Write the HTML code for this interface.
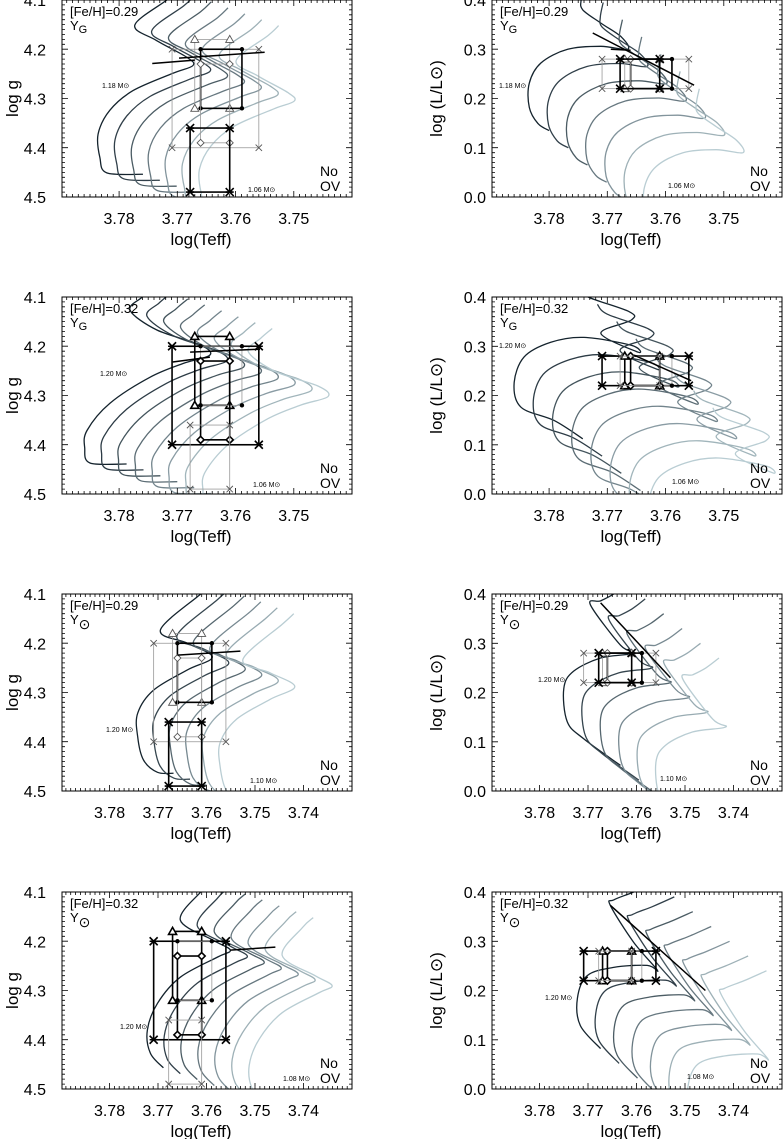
<!DOCTYPE html>
<html><head><meta charset="utf-8"><style>
html,body{margin:0;padding:0;background:#fff;}
svg{display:block;font-family:"Liberation Sans",sans-serif;}
</style></head><body>
<svg id="fig" width="783" height="1139" viewBox="0 0 783 1139" xmlns="http://www.w3.org/2000/svg"></svg>
<script>
// ---- data ----
const rowTops = [0, 297, 594, 892];
const feh = ["0.29", "0.32", "0.29", "0.32"];
const ySym = ["G", "G", "sun", "sun"];
const trackCounts = [7, 8, 6, 7];
const massHi = ["1.18", "1.20", "1.20", "1.20"];
const massLo = ["1.06", "1.06", "1.10", "1.08"];
const xTicksA = [3.78, 3.77, 3.76, 3.75];
const xTicksB = [3.78, 3.77, 3.76, 3.75, 3.74];
const gTicks = [4.1, 4.2, 4.3, 4.4, 4.5];
const lTicks = [0.0, 0.1, 0.2, 0.3, 0.4];
const baseG = [
 [[3.7759,4.454],[3.7821,4.451],[3.7833,4.420],[3.7836,4.372],[3.7816,4.324],[3.7776,4.284],[3.7708,4.249],[3.7673,4.233],[3.7684,4.216],[3.7736,4.182],[3.7773,4.151],[3.7718,4.10],[3.7700,4.08]],
 [[3.7787,4.439],[3.7850,4.437],[3.7859,4.406],[3.7855,4.371],[3.7816,4.316],[3.7747,4.263],[3.7690,4.235],[3.7644,4.218],[3.7661,4.197],[3.7735,4.167],[3.7781,4.127],[3.7760,4.10],[3.7740,4.08]],
 [[3.7668,4.464],[3.7701,4.462],[3.7730,4.437],[3.7742,4.39],[3.7742,4.342],[3.7709,4.295],[3.7639,4.254],[3.7588,4.228],[3.7639,4.20],[3.7695,4.173],[3.7612,4.10],[3.7590,4.08]],
 [[3.7689,4.457],[3.7716,4.427],[3.7722,4.38],[3.7701,4.326],[3.7654,4.273],[3.7577,4.232],[3.7551,4.218],[3.7586,4.198],[3.7654,4.157],[3.7612,4.10],[3.7590,4.08]]
];
const baseL = [
 [[3.7800,0.135],[3.7819,0.149],[3.7834,0.182],[3.7834,0.231],[3.7814,0.272],[3.7768,0.300],[3.7711,0.306],[3.7665,0.300],[3.7676,0.325],[3.7711,0.353],[3.7742,0.38],[3.7745,0.40],[3.7740,0.43]],
 [[3.7742,0.112],[3.7791,0.149],[3.7848,0.176],[3.7860,0.224],[3.7843,0.278],[3.7797,0.308],[3.7740,0.318],[3.7659,0.302],[3.7647,0.288],[3.7711,0.326],[3.7659,0.353],[3.7662,0.37],[3.7733,0.40],[3.7750,0.42]],
 [[3.7633,0.052],[3.7709,0.106],[3.7743,0.141],[3.7750,0.208],[3.7730,0.243],[3.7674,0.27],[3.7606,0.28],[3.7633,0.296],[3.7695,0.378],[3.7674,0.386],[3.7647,0.40],[3.7620,0.42]],
 [[3.7674,0.082],[3.7716,0.129],[3.7722,0.184],[3.7702,0.230],[3.7647,0.247],[3.7578,0.251],[3.7557,0.241],[3.7606,0.298],[3.7654,0.373],[3.7647,0.384],[3.7606,0.40],[3.7560,0.42]]
];
const shiftGx = [0.0029, 0.0029, 0.0034, 0.0035];
const shiftGy = [0.012, 0.012, 0.012, 0.012];
const shiftLx = [0.0033, 0.0033, 0.0038, 0.0038];
const shiftLy = [-0.035, -0.035, -0.03, -0.03];
const boxX = [[3.7709,3.7560,"x"],[3.7670,3.7610,"tri"],[3.7660,3.7589,"dot"],[3.7660,3.7610,"dia"],[3.7678,3.7610,"x"]];
const boxG = [[4.20,4.40],[4.18,4.32],[4.20,4.32],[4.23,4.39],[4.36,4.49]];
const boxL = [[0.22,0.28],[0.22,0.28],[0.22,0.28],[0.22,0.28],[0.22,0.28]];
const boldA = [false,false,true,false,true];
const boldB = [true,true,false,true,false];
const extraG = [
 [[[3.7743,4.229],[3.7670,4.222]],[[3.7697,4.218],[3.7550,4.206]]],
 [[[3.7708,4.232],[3.7644,4.222]],[[3.7678,4.212],[3.7558,4.206]]],
 [[[3.7660,4.224],[3.7530,4.216]]],
 [[[3.7551,4.218],[3.7458,4.212]]]
];
const extraL = [
 [[[3.7725,0.333],[3.7551,0.227]],[[3.7694,0.300],[3.7660,0.298]]],
 [[[3.7654,0.282],[3.7556,0.230]]],
 [[[3.7674,0.382],[3.7530,0.230]]],
 [[[3.7654,0.373],[3.7458,0.200]]]
];
const massHiPos = [[[40,88],[7,88]],[[38,79],[7,51]],[[44,138],[46,88]],[[58,137],[53,108]]];
const massLoPos = [[[186,192],[176,188]],[[191,190],[180,187]],[[188,189],[168,187]],[[221,189],[195,187]]];

// ---- drawing ----
const NS = "http://www.w3.org/2000/svg";
const svg = document.getElementById("fig");
function el(tag, attrs, parent) {
  const e = document.createElementNS(NS, tag);
  for (const k in attrs) e.setAttribute(k, attrs[k]);
  (parent || svg).appendChild(e);
  return e;
}
const W = 290, H = 197;
function lerpColor(t) {
  const a = [20,35,45], b = [185,205,211];
  return "rgb(" + a.map((v,i)=>Math.round(v+(b[i]-v)*t)).join(",") + ")";
}
function smoothPath(p) {
  let d = `M${p[0][0].toFixed(1)},${p[0][1].toFixed(1)}`;
  for (let i = 0; i < p.length - 1; i++) {
    const p0 = p[Math.max(i-1,0)], p1 = p[i], p2 = p[i+1], p3 = p[Math.min(i+2,p.length-1)];
    const c1 = [p1[0] + (p2[0]-p0[0])/6, p1[1] + (p2[1]-p0[1])/6];
    const c2 = [p2[0] - (p3[0]-p1[0])/6, p2[1] - (p3[1]-p1[1])/6];
    d += `C${c1[0].toFixed(1)},${c1[1].toFixed(1)} ${c2[0].toFixed(1)},${c2[1].toFixed(1)} ${p2[0].toFixed(1)},${p2[1].toFixed(1)}`;
  }
  return d;
}
function marker(g, type, x, y, bold) {
  const c = bold ? "#000" : "#555";
  const sw = bold ? 1.6 : 0.9;
  if (type === "x") {
    const s = bold ? 4 : 3.2;
    el("path", {d:`M${x-s},${y-s}L${x+s},${y+s}M${x-s},${y+s}L${x+s},${y-s}` + (bold?`M${x-s},${y}L${x+s},${y}`:""), stroke:c, "stroke-width":sw, fill:"none"}, g);
  } else if (type === "tri") {
    el("path", {d:`M${x},${y-4}L${x+4},${y+3}L${x-4},${y+3}Z`, stroke:c, "stroke-width":sw, fill:"#fff"}, g);
  } else if (type === "dia") {
    el("path", {d:`M${x},${y-3.5}L${x+3.5},${y}L${x},${y+3.5}L${x-3.5},${y}Z`, stroke:c, "stroke-width":sw, fill:"#fff"}, g);
  } else {
    el("circle", {cx:x, cy:y, r:2.2, fill:"#000"}, g);
  }
}
function panel(row, col) {
  const isG = col === 0;
  const X0 = isG ? 62 : 492, Y0 = rowTops[row];
  const xmin = 3.7898, xmax = row < 2 ? 3.7400 : 3.7300;
  const ymin = isG ? 4.1 : 0.4, ymax = isG ? 4.5 : 0.0;
  const sx = v => X0 + (xmin - v) / (xmin - xmax) * W;
  const sy = v => Y0 + (v - ymin) / (ymax - ymin) * H;
  const g = el("g", {});
  
  
  const cid = "clip" + row + col;
  const cp = el("clipPath", {id: cid}, g);
  el("rect", {x:X0, y:Y0, width:W, height:H}, cp);
  const inner = el("g", {"clip-path": "url(#" + cid + ")"}, g);
  const n = trackCounts[row];
  const base = isG ? baseG[row] : baseL[row];
  const dx = isG ? shiftGx[row] : shiftLx[row];
  const dy = isG ? shiftGy[row] : shiftLy[row];
  for (let k = 0; k < n; k++) {
    const pts = base.map(p => [sx(p[0] - k*dx), sy(p[1] + k*dy)]);
    const pl = el("path", {d: smoothPath(pts), fill:"none", stroke: lerpColor(k/(n-1)), "stroke-width":1.3, "stroke-linejoin":"round"}, inner);
    
    
  }
  const bold = (row % 2 === 0) ? boldA : boldB;
  const by = isG ? boxG : boxL;
  boxX.forEach((b, i) => {
    const x1 = sx(b[0]), x2 = sx(b[1]), y1 = sy(by[i][0]), y2 = sy(by[i][1]);
    const r = el("rect", {x:Math.min(x1,x2), y:Math.min(y1,y2), width:Math.abs(x2-x1), height:Math.abs(y2-y1), fill:"none", stroke: bold[i] ? "#000" : "#999", "stroke-width": bold[i] ? 1.6 : 0.8}, inner);
    
    
    [[x1,y1],[x2,y1],[x1,y2],[x2,y2]].forEach(p => marker(inner, b[2], p[0], p[1], bold[i]));
  });
  (isG ? extraG : extraL)[row].forEach(s => {
    const ln = el("line", {x1:sx(s[0][0]), y1:sy(s[0][1]), x2:sx(s[1][0]), y2:sy(s[1][1]), stroke:"#000", "stroke-width":1.5}, inner);
    
    
  });
  el("rect", {x:X0, y:Y0, width:W, height:H, fill:"none", stroke:"#000", "stroke-width":1}, g);
  let tk = "";
  for (let v = 3.790; v >= xmax - 1e-6; v -= 0.001) {
    const x = sx(v); if (x < X0 || x > X0 + W) continue;
    const major = Math.abs(Math.round(v*100) - v*100) < 0.01;
    const L = major ? 6 : 3;
    tk += `M${x.toFixed(1)},${Y0+H}v${-L}M${x.toFixed(1)},${Y0}v${L}`;
  }
  const yStep = isG ? 0.01 : -0.01;
  for (let i = 0; i <= 40; i++) {
    const v = ymin + i * yStep; const y = sy(v);
    const L = i % 10 === 0 ? 6 : 3;
    tk += `M${X0},${y.toFixed(1)}h${L}M${X0+W},${y.toFixed(1)}h${-L}`;
  }
  el("path", {d: tk, stroke:"#000", "stroke-width":0.8, fill:"none"}, g);
  (row < 2 ? xTicksA : xTicksB).forEach(v => {
    const t = el("text", {x: sx(v), y: Y0 + H + 27, "font-size": 16, "text-anchor":"middle"}, g);
    t.textContent = v.toFixed(2);
    
    
  });
  (isG ? gTicks : lTicks).forEach(v => {
    const t = el("text", {x: isG ? X0 - 16 : X0 - 6, y: sy(v) + 6, "font-size": 16, "text-anchor":"end"}, g);
    t.textContent = v.toFixed(1);
    
    
  });
  const xt = el("text", {x: X0 + W/2 - 6, y: Y0 + H + 48, "font-size": 17, "text-anchor":"middle"}, g);
  xt.textContent = "log(Teff)";
  
  
  const ycx = isG ? 13 : 437, ycy = Y0 + H/2;
  const yt = el("text", {x: ycx, y: ycy, "font-size": 17, "text-anchor":"middle", transform:`rotate(-90 ${ycx} ${ycy})`, dy: 5}, g);
  yt.textContent = isG ? "log g" : "log (L/L\u2299)";
  
  
  const f = el("text", {x: X0 + 8, y: Y0 + 16, "font-size": 13}, g);
  f.textContent = "[Fe/H]=" + feh[row];
  
  
  const yl = el("text", {x: X0 + 8, y: Y0 + 30, "font-size": 13}, g);
  
  
  yl.textContent = "Y";
  const sub = el("tspan", ySym[row] === "G" ? {dy: 3, "font-size": 11} : {dy: 5, "font-size": 14}, yl);
  sub.textContent = ySym[row] === "G" ? "G" : "\u2299";
  const no = el("text", {x: X0 + W - 32, y: Y0 + H - 21, "font-size": 14}, g);
  no.textContent = "No";
  
  
  const ov = el("text", {x: X0 + W - 32, y: Y0 + H - 6, "font-size": 14}, g);
  ov.textContent = "OV";
  
  
  const mh = massHiPos[row][col], ml = massLoPos[row][col];
  const m1 = el("text", {x: X0 + mh[0], y: Y0 + mh[1], "font-size": 7}, g);
  m1.textContent = massHi[row] + " M\u2299";
  
  
  const m2 = el("text", {x: X0 + ml[0], y: Y0 + ml[1], "font-size": 7}, g);
  m2.textContent = massLo[row] + " M\u2299";
  
  
}
for (let r = 0; r < 4; r++) { panel(r, 0); panel(r, 1); }
</script>
</body></html>
